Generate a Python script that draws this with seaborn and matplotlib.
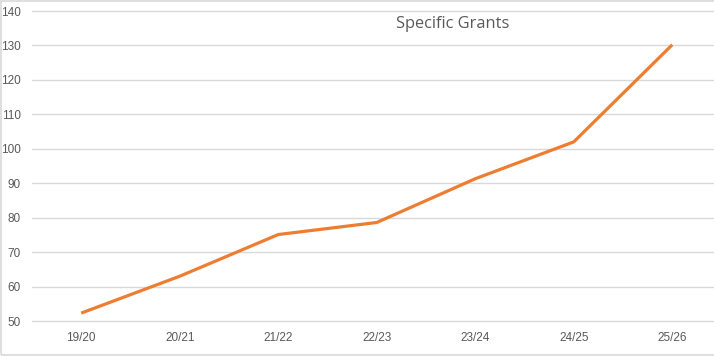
import matplotlib
matplotlib.use("Agg")
import matplotlib.pyplot as plt
import seaborn as sns
import pandas as pd
from matplotlib.patches import Rectangle

years = ["19/20", "20/21", "21/22", "22/23", "23/24", "24/25", "25/26"]
grants = [52.3, 63.0, 75.1, 78.6, 91.3, 102.0, 130.2]
yticks = [50, 60, 70, 80, 90, 100, 110, 120, 130, 140]

sns.set_theme(style="white")
plt.rcParams['font.family'] = ['Liberation Sans', 'DejaVu Sans']

df = pd.DataFrame({"year": years, "value": grants})
W, H = 714, 356
fig = plt.figure(figsize=(W / 100, H / 100), dpi=100)
left, right, top, bottom = 32, 714, 11, 321
ax = fig.add_axes([left / W, 1 - bottom / H, (right - left) / W, (bottom - top) / H])

sns.lineplot(data=df, x="year", y="value", ax=ax, color="#ED7D31", linewidth=2.3,
             sort=False, solid_capstyle="butt")

step = 98.5
ax.set_xlim(-0.5, -0.5 + (right - left) / step)
ax.set_ylim(50, 140)
ax.set_yticks(yticks)
ax.set_yticklabels([str(v) for v in yticks])
ax.grid(axis="y", color="#D9D9D9", linewidth=1)
for gl in ax.get_ygridlines():
    gl.set_clip_on(False)
ax.set_axisbelow(True)
for s in ax.spines.values():
    s.set_visible(False)
ax.tick_params(axis="both", length=0, labelsize=8.5, labelcolor="#595959")
ax.tick_params(axis="x", pad=8)
ax.tick_params(axis="y", pad=8)
ax.set_xlabel("")
ax.set_ylabel("")

fig.text(453 / W, 1 - 24 / H, "Specific Grants", ha="center", va="center",
         fontsize=11.8, color="#595959", family=["Open Sans", "DejaVu Sans"])

fig.patches.append(Rectangle((0.5 / W, 1.5 / H), 1.2, 1 - 2 / H, transform=fig.transFigure,
                             fill=False, edgecolor="#D9D9D9", linewidth=1.2, zorder=10))

fig.savefig("out.png", dpi=100)
